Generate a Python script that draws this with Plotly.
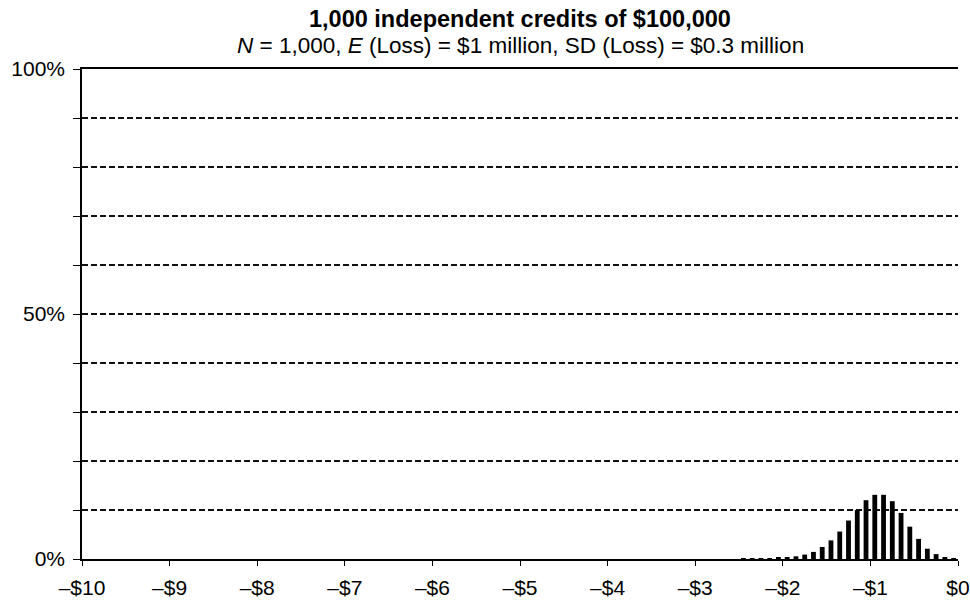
import plotly.graph_objects as go

# Loss bins ($ millions, shown as negative values) and probability (%)
loss_bins = [-2.45, -2.35, -2.25, -2.15, -2.05, -1.95, -1.85, -1.75, -1.65, -1.55,
             -1.45, -1.35, -1.25, -1.15, -1.05, -0.95, -0.85, -0.75, -0.65, -0.55,
             -0.45, -0.35, -0.25, -0.15, -0.05]
prob_pct = [0.03, 0.05, 0.1, 0.2, 0.3, 0.4, 0.55, 0.9, 1.45, 2.45,
            3.8, 5.6, 7.85, 10.0, 12.0, 13.1, 13.1, 11.8, 9.4, 6.6,
            4.1, 2.1, 1.0, 0.35, 0.2]

x_tick_vals = [-10, -9, -8, -7, -6, -5, -4, -3, -2, -1, 0]
x_tick_text = ["\u2013$10", "\u2013$9", "\u2013$8", "\u2013$7", "\u2013$6", "\u2013$5",
               "\u2013$4", "\u2013$3", "\u2013$2", "\u2013$1", "$0"]
y_tick_vals = [0, 10, 20, 30, 40, 50, 60, 70, 80, 90, 100]
y_tick_text = ["0%", "", "", "", "", "50%", "", "", "", "", "100%"]

title_text = "<b>1,000 independent credits of $100,000</b>"
subtitle_text = "<i>N</i> = 1,000, <i>E</i> (Loss) = $1 million, SD (Loss) = $0.3 million"

FONT = "Liberation Sans, Arial, Helvetica, sans-serif"
T, B, L, R = 69, 42, 82, 12
PH = 601 - T - B

fig = go.Figure()
fig.add_trace(go.Bar(x=loss_bins, y=prob_pct, width=0.055,
                     marker=dict(color="black", line=dict(width=0)),
                     hoverinfo="x+y"))

fig.update_layout(
    width=970, height=601,
    margin=dict(l=L, r=R, t=T, b=B, autoexpand=False),
    paper_bgcolor="white", plot_bgcolor="white",
    showlegend=False,
    font=dict(family=FONT, size=21, color="black"),
    xaxis=dict(range=[-10, 0], tickvals=x_tick_vals, ticktext=x_tick_text,
               ticks="outside", ticklen=5, tickwidth=1.4, tickcolor="black",
               showline=True, linecolor="black", linewidth=1.6, mirror=True,
               showgrid=False, zeroline=False, ticklabelstandoff=4,
               ticklabeloverflow="allow", automargin=False,
               tickfont=dict(size=21)),
    yaxis=dict(range=[0, 100], tickvals=y_tick_vals, ticktext=y_tick_text,
               ticks="outside", ticklen=7, tickwidth=1.4, tickcolor="black",
               showline=True, linecolor="black", linewidth=1.6,
               showgrid=True, gridcolor="#111111", gridwidth=1.6, griddash="6px,3px",
               zeroline=False, ticklabelstandoff=4, automargin=False,
               ticklabeloverflow="allow", tickfont=dict(size=21)),
    yaxis2=dict(range=[0, 100], overlaying="y", anchor="x", side="left",
                tickvals=y_tick_vals, showticklabels=False,
                ticks="inside", ticklen=6, tickwidth=1.4, tickcolor="black",
                showline=False, showgrid=False, zeroline=False, automargin=False),
    annotations=[
        dict(text=title_text, xref="paper", yref="paper", x=0.5, y=1 + (T - 19) / PH,
             xanchor="center", yanchor="middle", showarrow=False,
             font=dict(size=23.5, family=FONT, color="black")),
        dict(text=subtitle_text, xref="paper", yref="paper", x=0.5, y=1 + (T - 45) / PH,
             xanchor="center", yanchor="middle", showarrow=False,
             font=dict(size=22.5, family=FONT, color="black")),
    ],
)

fig.write_html(
    "out.html",
    config={"displayModeBar": False},
    post_script="document.body.style.margin='0';document.body.style.overflow='hidden';",
)
